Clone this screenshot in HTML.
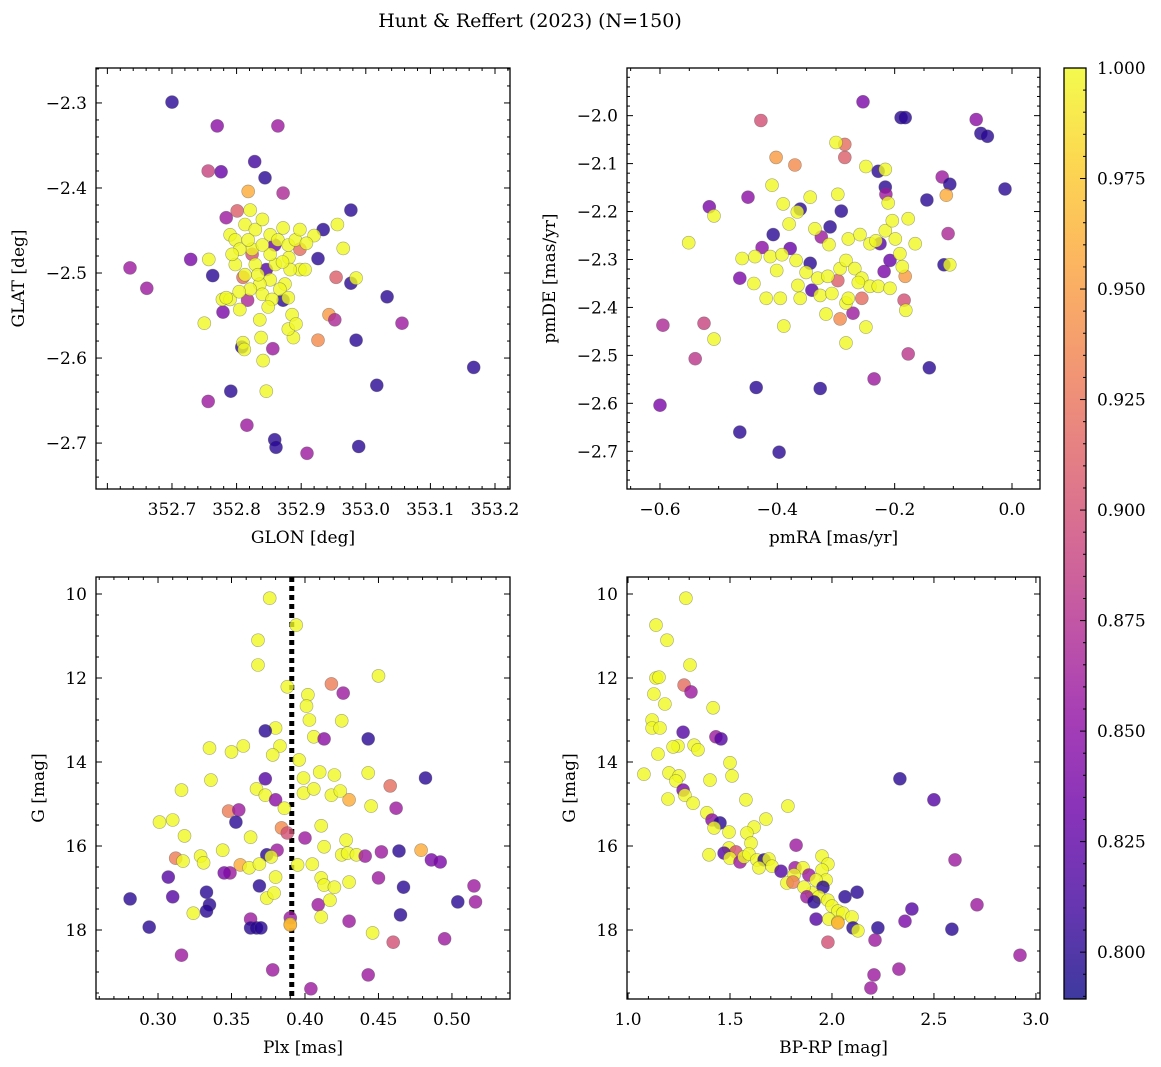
<!DOCTYPE html>
<html><head><meta charset="utf-8"><style>
html,body{margin:0;padding:0;background:#fff;}
svg{display:block;font-family:"DejaVu Serif","Liberation Serif",serif;}
</style></head><body>
<svg id="fig" width="1161" height="1067" viewBox="0 0 1161 1067">
<text x="530" y="27" text-anchor="middle" font-size="19">Hunt &amp; Reffert (2023) (N=150)</text>
</svg>
<script>
// ---- Panel 1: GLON / GLAT ----
const glon = [352.700,352.770,352.864,352.828,352.776,352.756,352.844,352.818,352.872,352.977,352.784,352.801,352.934,352.898,352.729,352.926,352.954,352.977,352.635,352.661,352.763,352.779,352.943,352.952,353.033,353.056,352.926,352.985,352.808,352.856,352.791,352.756,352.816,353.017,353.167,352.859,352.861,352.909,352.989,352.810,352.824,352.846,352.859,352.817,352.872,
352.750,352.757,352.778,352.810,352.841,352.846,352.881,352.920,352.956,352.965,352.985,352.888,352.790,352.798,352.813,352.821,352.829,352.840,352.852,352.864,352.872,352.880,352.891,352.898,352.906,352.883,352.875,352.867,352.860,352.852,352.836,352.829,352.824,352.805,352.798,352.813,352.821,352.840,352.855,352.880,352.886,352.805,352.790,352.836,352.880,352.892,352.852,352.840,352.818,352.898,352.908,352.871,352.793,352.833,352.849,352.812,352.838,352.784,352.804];
const glat = [-2.299,-2.327,-2.327,-2.369,-2.381,-2.380,-2.388,-2.404,-2.406,-2.426,-2.435,-2.427,-2.449,-2.472,-2.484,-2.483,-2.505,-2.512,-2.494,-2.518,-2.503,-2.546,-2.549,-2.555,-2.528,-2.559,-2.579,-2.579,-2.587,-2.589,-2.639,-2.651,-2.679,-2.632,-2.611,-2.696,-2.705,-2.712,-2.704,-2.505,-2.478,-2.496,-2.467,-2.532,-2.532,
-2.559,-2.484,-2.531,-2.582,-2.603,-2.639,-2.482,-2.456,-2.443,-2.471,-2.506,-2.576,-2.455,-2.461,-2.443,-2.426,-2.449,-2.437,-2.455,-2.461,-2.447,-2.467,-2.461,-2.496,-2.496,-2.496,-2.513,-2.519,-2.490,-2.508,-2.513,-2.490,-2.472,-2.472,-2.490,-2.502,-2.519,-2.525,-2.531,-2.529,-2.549,-2.543,-2.531,-2.555,-2.566,-2.560,-2.478,-2.467,-2.461,-2.449,-2.465,-2.487,-2.478,-2.502,-2.540,-2.590,-2.576,-2.529,-2.522];
const prob1 = [0.80,0.85,0.86,0.81,0.83,0.89,0.80,0.96,0.87,0.80,0.86,0.91,0.80,0.92,0.84,0.80,0.91,0.80,0.86,0.86,0.80,0.84,0.95,0.87,0.80,0.86,0.94,0.80,0.80,0.86,0.80,0.86,0.86,0.80,0.80,0.80,0.80,0.86,0.80,0.92,0.90,0.82,0.83,0.87,0.80,
1,1,1,1,1,1,1,1,1,1,1,1,1,1,1,1,1,1,1,1,1,1,1,1,1,1,1,1,1,1,1,1,1,1,1,1,1,1,1,1,1,1,1,1,1,1,1,1,1,1,1,1,1,1,1,1,1,1,1];

// ---- Panel 2: pmRA / pmDE ----
const pmra = [-0.254,-0.189,-0.182,-0.061,-0.053,-0.042,-0.012,-0.428,-0.402,-0.285,-0.370,-0.228,-0.119,-0.106,-0.216,-0.112,-0.145,-0.215,-0.516,-0.450,-0.595,-0.525,-0.540,-0.600,-0.464,-0.436,-0.397,-0.327,-0.235,-0.177,-0.141,-0.109,-0.116,-0.184,-0.464,-0.407,-0.426,-0.361,-0.310,-0.325,-0.291,-0.225,-0.218,-0.208,-0.341,-0.293,-0.271,-0.344,-0.378,-0.297,-0.256,-0.182,-0.285,
-0.300,-0.216,-0.249,-0.211,-0.508,-0.551,-0.508,-0.106,-0.181,-0.409,-0.390,-0.366,-0.380,-0.344,-0.336,-0.312,-0.297,-0.279,-0.259,-0.242,-0.232,-0.216,-0.204,-0.199,-0.191,-0.165,-0.177,-0.460,-0.438,-0.412,-0.392,-0.368,-0.351,-0.331,-0.314,-0.293,-0.283,-0.268,-0.256,-0.242,-0.228,-0.208,-0.187,-0.440,-0.401,-0.365,-0.327,-0.307,-0.283,-0.249,-0.317,-0.279,-0.262,-0.361,-0.389,-0.283,-0.395,-0.419];
const pmde = [-1.971,-2.004,-2.004,-2.008,-2.037,-2.043,-2.153,-2.010,-2.087,-2.087,-2.103,-2.116,-2.128,-2.143,-2.149,-2.166,-2.176,-2.164,-2.190,-2.170,-2.437,-2.433,-2.507,-2.604,-2.660,-2.567,-2.702,-2.569,-2.549,-2.497,-2.526,-2.246,-2.311,-2.385,-2.339,-2.248,-2.275,-2.195,-2.232,-2.253,-2.199,-2.267,-2.325,-2.302,-2.364,-2.424,-2.412,-2.308,-2.277,-2.344,-2.381,-2.335,-2.060,
-2.056,-2.112,-2.106,-2.182,-2.209,-2.265,-2.466,-2.311,-2.406,-2.145,-2.184,-2.201,-2.226,-2.170,-2.236,-2.269,-2.164,-2.257,-2.248,-2.267,-2.261,-2.240,-2.219,-2.257,-2.288,-2.267,-2.215,-2.298,-2.294,-2.294,-2.290,-2.302,-2.327,-2.339,-2.335,-2.319,-2.302,-2.319,-2.339,-2.356,-2.356,-2.360,-2.315,-2.350,-2.323,-2.354,-2.375,-2.371,-2.391,-2.441,-2.414,-2.381,-2.348,-2.381,-2.439,-2.474,-2.381,-2.381];
const prob2 = [0.84,0.80,0.80,0.85,0.80,0.80,0.80,0.90,0.95,0.91,0.94,0.80,0.86,0.80,0.80,0.96,0.80,0.86,0.84,0.85,0.87,0.89,0.88,0.84,0.80,0.80,0.80,0.80,0.86,0.88,0.80,0.87,0.80,0.90,0.84,0.80,0.85,0.80,0.80,0.86,0.80,0.82,0.84,0.83,0.82,0.94,0.86,0.80,0.83,0.91,0.92,0.95,0.92,
1,1,1,1,1,1,1,1,1,1,1,1,1,1,1,1,1,1,1,1,1,1,1,1,1,1,1,1,1,1,1,1,1,1,1,1,1,1,1,1,1,1,1,1,1,1,1,1,1,1,1,1,1,1,1,1,1,1];

// ---- Panel 3: Plx / G ----
const plx = [0.376,0.368,0.394,0.368,0.388,0.418,0.426,0.450,0.402,0.401,0.403,0.380,0.425,0.406,0.413,0.373,0.358,0.383,0.335,0.350,0.378,0.396,0.443,0.373,0.336,0.316,0.410,0.420,0.399,0.443,0.458,0.482,0.367,0.373,0.380,0.386,0.399,0.406,0.418,0.430,0.424,0.445,0.462,0.348,0.355,0.353,0.301,0.310,0.384,0.363,0.318,0.388,0.411,0.428,0.400,0.413,0.381,0.374,0.377,0.344,0.329,0.312,0.317,0.331,0.356,0.362,0.369,0.395,0.405,0.425,0.429,0.435,0.441,0.452,0.464,0.479,0.486,0.492,0.307,0.349,0.333,0.369,0.380,0.374,0.379,0.411,0.413,0.430,0.420,0.467,0.450,0.345,0.281,0.310,0.335,0.333,0.324,0.504,0.515,0.516,0.409,0.417,0.411,0.363,0.363,0.367,0.370,0.390,0.390,0.390,0.430,0.465,0.446,0.460,0.495,0.294,0.316,0.378,0.404,0.443];
const gmag3 = [10.10,11.10,10.74,11.69,12.21,12.14,12.36,11.95,12.40,12.67,13.00,13.19,13.02,13.40,13.45,13.26,13.62,13.62,13.67,13.76,13.83,13.95,13.45,14.40,14.43,14.67,14.24,14.31,14.38,14.26,14.57,14.38,14.64,14.79,14.90,15.10,14.74,14.64,14.79,14.90,14.69,15.05,15.10,15.17,15.14,15.43,15.43,15.38,15.57,15.79,15.76,15.69,15.52,15.86,15.81,16.02,16.10,16.21,16.26,16.10,16.24,16.29,16.36,16.40,16.45,16.52,16.43,16.45,16.43,16.21,16.17,16.21,16.24,16.14,16.12,16.10,16.33,16.38,16.74,16.64,17.10,16.95,16.74,17.24,17.12,16.76,16.93,16.86,16.98,16.98,16.76,16.64,17.26,17.21,17.40,17.55,17.60,17.33,16.95,17.33,17.40,17.29,17.69,17.74,17.95,17.95,17.95,17.71,17.86,17.88,17.79,17.64,18.07,18.29,18.21,17.93,18.60,18.95,19.40,19.07];
const prob3 = [1,1,1,1,1,0.93,0.86,1,1,1,1,1,1,1,0.85,0.80,1,1,1,1,1,1,0.80,0.82,1,1,1,1,1,1,0.92,0.80,1,1,0.85,1,1,1,1,0.96,1,1,0.86,0.93,0.86,0.80,1,1,0.94,1,1,0.90,1,1,0.86,1,0.86,0.80,1,1,1,0.93,1,1,0.96,1,1,1,1,1,1,1,0.86,0.86,0.80,0.96,0.84,0.84,0.82,0.86,0.80,0.80,1,1,1,1,1,1,1,0.80,0.86,0.84,0.80,0.82,0.80,0.80,1,0.80,0.86,0.86,0.86,1,1,0.86,0.80,0.80,0.80,0.86,1,0.96,0.86,0.80,1,0.90,0.86,0.80,0.86,0.86,0.86,0.86];

// ---- Panel 4: BP-RP / G ----
const bprp = [1.284,1.137,1.191,1.137,1.152,1.304,1.275,1.309,1.181,1.127,1.118,1.417,1.118,1.157,1.270,1.324,1.343,1.431,1.456,1.245,1.221,1.147,1.078,1.201,1.250,1.235,1.270,1.279,1.196,1.402,1.500,1.510,1.578,1.319,1.387,1.412,1.451,1.422,1.495,1.676,1.784,1.618,1.583,1.603,1.824,1.495,1.529,1.471,1.500,1.397,1.549,1.569,1.593,1.632,1.667,1.691,1.706,1.642,1.750,1.819,1.858,1.814,1.779,1.809,1.887,1.951,1.980,1.951,1.971,1.922,1.956,1.902,1.863,1.936,1.877,1.912,1.980,2.000,2.064,2.123,2.029,2.054,1.922,1.985,2.029,2.098,2.103,2.127,2.029,1.980,2.225,2.211,2.206,2.191,2.328,2.358,2.392,2.333,2.500,2.603,2.588,2.711,2.922];
const gmag4 = [10.10,10.74,11.10,12.00,11.98,11.69,12.17,12.33,12.62,12.38,13.00,12.71,13.19,13.19,13.29,13.60,13.71,13.40,13.45,13.62,13.64,13.81,14.29,14.26,14.33,14.45,14.67,14.79,14.88,14.43,14.02,14.33,14.90,14.98,15.21,15.38,15.45,15.57,15.67,15.36,15.05,15.55,15.69,15.93,15.98,16.05,16.14,16.17,16.29,16.21,16.38,16.26,16.19,16.33,16.33,16.31,16.48,16.52,16.60,16.52,16.52,16.69,16.88,16.86,16.69,16.24,16.43,16.57,16.81,16.81,16.98,17.12,16.98,17.21,17.21,17.33,17.29,17.43,17.21,17.10,17.55,17.60,17.74,17.74,17.81,17.69,17.95,18.02,17.83,18.29,17.95,18.24,19.07,19.38,18.93,17.79,17.50,14.40,14.90,16.33,17.98,17.40,18.60];
const prob4 = [1,1,1,1,1,1,0.92,0.86,1,1,1,1,1,1,0.82,1,1,0.86,0.82,1,1,1,1,1,1,1,0.84,1,1,1,1,1,1,1,1,0.85,0.80,1,1,1,1,1,1,1,0.86,1,0.90,0.82,1,1,0.86,1,1,1,0.80,1,1,1,0.82,0.86,1,1,1,0.93,0.86,1,1,1,1,1,0.80,1,1,1,0.86,0.80,1,1,0.80,0.80,1,1,0.82,1,1,1,0.80,1,0.96,0.90,0.80,0.86,0.86,0.86,0.86,0.84,0.82,0.80,0.82,0.86,0.80,0.86,0.86];

const plxRef = [0.391];
const cbTicks = [0.800,0.825,0.850,0.875,0.900,0.925,0.950,0.975,1.000];

const NS = "http://www.w3.org/2000/svg";
const svg = document.getElementById('fig');
function mk(tag, attrs, parent){ const e=document.createElementNS(NS,tag); for(const k in attrs) e.setAttribute(k,attrs[k]); (parent||svg).appendChild(e); return e; }

const VMIN=0.7894, VMAX=1.0;
const stops=["#0d0887","#41049d","#6a00a8","#8f0da4","#b12a90","#cc4778","#e16462","#f2844b","#fca636","#fcce25","#f0f921"];
function hex(h){return [parseInt(h.slice(1,3),16),parseInt(h.slice(3,5),16),parseInt(h.slice(5,7),16)];}
function plasma(t){ if(!isFinite(t)) t=1; t=Math.max(0,Math.min(1,t)); const f=t*10, i=Math.min(9,Math.floor(f)), r=f-i; const a=hex(stops[i]), b=hex(stops[i+1]); return `rgb(${a.map((v,k)=>Math.round(v+(b[k]-v)*r)).join(',')})`; }
function cmap(v){ if(v===undefined) v=1; return plasma((v-VMIN)/(VMAX-VMIN)); }
function fmtMinus(s){ return s.replace('-','\u2212'); }

function panel(o){
  const g = mk('g',{});
  
  
  const sx = v => o.x0 + (v-o.xmin)/(o.xmax-o.xmin)*(o.x1-o.x0);
  const sy = v => o.inv ? o.y0 + (v-o.ymin)/(o.ymax-o.ymin)*(o.y1-o.y0) : o.y1 - (v-o.ymin)/(o.ymax-o.ymin)*(o.y1-o.y0);
  const clip = mk('clipPath',{id:o.name+'-clip'},g);
  mk('rect',{x:o.x0,y:o.y0,width:o.x1-o.x0,height:o.y1-o.y0},clip);
  const pg = mk('g',{'clip-path':`url(#${o.name}-clip)`},g);
  if(o.vline){ o.vline.forEach(v=>{ const l=mk('line',{x1:sx(v),x2:sx(v),y1:o.y0,y2:o.y1,stroke:'#000','stroke-width':5,'stroke-dasharray':'5 4'},pg);
    
     }); }
  const n = Math.min(o.xs.length, o.ys.length);
  for(let i=0;i<n;i++){
    const c = mk('circle',{cx:sx(o.xs[i]).toFixed(1),cy:sy(o.ys[i]).toFixed(1),r:6.5,fill:cmap(o.cs[i]),'fill-opacity':0.8,stroke:'#555','stroke-opacity':0.5,'stroke-width':0.6},pg);
    
    
  }
  const tk = mk('g',{stroke:'#000','stroke-width':1},g);
  const eps=1e-9;
  for(let k=Math.ceil(o.xmin/o.xminor-eps); k*o.xminor<=o.xmax+eps; k++){
    const v=k*o.xminor;
    const isMaj = Math.abs(v/o.xmajor - Math.round(v/o.xmajor))<1e-6; const L=isMaj?6:3; const x=sx(v);
    mk('line',{x1:x,x2:x,y1:o.y1,y2:o.y1-L},tk); mk('line',{x1:x,x2:x,y1:o.y0,y2:o.y0+L},tk);
  }
  for(let k=Math.ceil(o.ymin/o.yminor-eps); k*o.yminor<=o.ymax+eps; k++){
    const v=k*o.yminor;
    const isMaj = Math.abs(v/o.ymajor - Math.round(v/o.ymajor))<1e-6; const L=isMaj?6:3; const y=sy(v);
    mk('line',{x1:o.x0,x2:o.x0+L,y1:y,y2:y},tk); mk('line',{x1:o.x1,x2:o.x1-L,y1:y,y2:y},tk);
  }
  o.xticks.forEach(v=>{ const t=mk('text',{x:sx(v),y:o.y1+26,'text-anchor':'middle','font-size':17},g); t.textContent=fmtMinus(v.toFixed(o.xdec));
      });
  o.yticks.forEach(v=>{ const t=mk('text',{x:o.x0-9,y:sy(v)+6,'text-anchor':'end','font-size':17},g); t.textContent=fmtMinus(v.toFixed(o.ydec));
      });
  mk('rect',{x:o.x0,y:o.y0,width:o.x1-o.x0,height:o.y1-o.y0,fill:'none',stroke:'#000','stroke-width':1.3},g);
  const xl=mk('text',{x:(o.x0+o.x1)/2,y:o.y1+54,'text-anchor':'middle','font-size':17},g); xl.textContent=o.xlabel;
   
  const yl=mk('text',{x:0,y:0,'text-anchor':'middle','font-size':17,transform:`translate(${o.ylx},${(o.y0+o.y1)/2}) rotate(-90)`},g); yl.textContent=o.ylabel;
   
}

panel({name:'panel-glon-glat',x0:96,x1:510,y0:68,y1:489,xmin:352.5824,xmax:353.2232,ymin:-2.7540,ymax:-2.2589,
  xs:glon,ys:glat,cs:prob1,xmajor:0.1,xminor:0.02,ymajor:0.1,yminor:0.02,
  xticks:[352.7,352.8,352.9,353.0,353.1,353.2],xdec:1,yticks:[-2.3,-2.4,-2.5,-2.6,-2.7],ydec:1,
  xlabel:'GLON [deg]',ylabel:'GLAT [deg]',ylx:24});
panel({name:'panel-pm',x0:627,x1:1040,y0:68,y1:489,xmin:-0.6562,xmax:0.0477,ymin:-2.7787,ymax:-1.9006,
  xs:pmra,ys:pmde,cs:prob2,xmajor:0.2,xminor:0.05,ymajor:0.1,yminor:0.02,
  xticks:[-0.6,-0.4,-0.2,0.0],xdec:1,yticks:[-2.0,-2.1,-2.2,-2.3,-2.4,-2.5,-2.6,-2.7],ydec:1,
  xlabel:'pmRA [mas/yr]',ylabel:'pmDE [mas/yr]',ylx:555});
panel({name:'panel-plx-g',x0:96,x1:510,y0:577,y1:999,xmin:0.2578,xmax:0.5395,ymin:9.595,ymax:19.643,inv:true,
  xs:plx,ys:gmag3,cs:prob3,xmajor:0.05,xminor:0.01,ymajor:2,yminor:0.5,
  xticks:[0.30,0.35,0.40,0.45,0.50],xdec:2,yticks:[10,12,14,16,18],ydec:0,
  xlabel:'Plx [mas]',ylabel:'G [mag]',ylx:44,vline:plxRef});
panel({name:'panel-cmd',x0:627,x1:1040,y0:577,y1:999,xmin:0.995,xmax:3.020,ymin:9.595,ymax:19.643,inv:true,
  xs:bprp,ys:gmag4,cs:prob4,xmajor:0.5,xminor:0.1,ymajor:2,yminor:0.5,
  xticks:[1.0,1.5,2.0,2.5,3.0],xdec:1,yticks:[10,12,14,16,18],ydec:0,
  xlabel:'BP-RP [mag]',ylabel:'G [mag]',ylx:575});

// ---- colorbar ----
const cb = mk('g',{});


const defs = mk('defs',{},cb);
const grad = mk('linearGradient',{id:'cbgrad',x1:0,y1:1,x2:0,y2:0},defs);
for(let i=0;i<=20;i++){ mk('stop',{offset:(i/20),'stop-color':plasma(i/20),'stop-opacity':0.8},grad); }
const CB={x0:1064,x1:1086,y0:68,y1:999};
const cy = v => CB.y1 - (v-VMIN)/(VMAX-VMIN)*(CB.y1-CB.y0);
mk('rect',{x:CB.x0,y:CB.y0,width:CB.x1-CB.x0,height:CB.y1-CB.y0,fill:'url(#cbgrad)'},cb);
for(let k=158; k<=200; k++){ const v=k*0.005; const maj=(k%5===0); mk('line',{x1:CB.x1,x2:CB.x1-(maj?6:3),y1:cy(v),y2:cy(v),stroke:'#000','stroke-width':1},cb); }
cbTicks.forEach(v=>{ const t=mk('text',{x:CB.x1+11,y:cy(v)+6,'font-size':17},cb); t.textContent=v.toFixed(3);
    });
mk('rect',{x:CB.x0,y:CB.y0,width:CB.x1-CB.x0,height:CB.y1-CB.y0,fill:'none',stroke:'#000','stroke-width':1.3},cb);
</script>
</body></html>
